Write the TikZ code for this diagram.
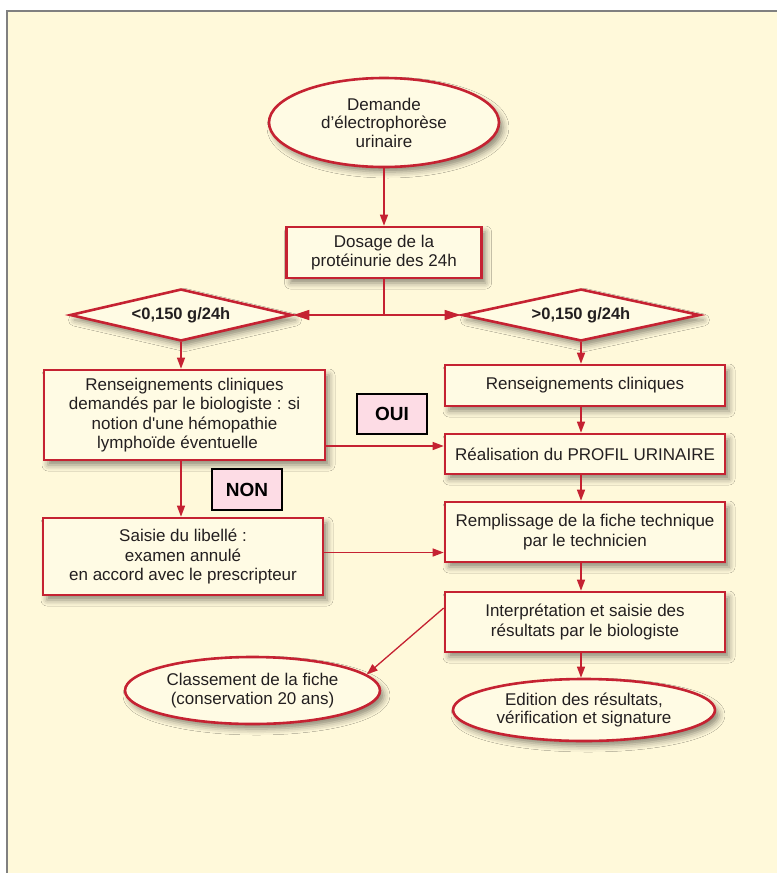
\documentclass[tikz,border=0pt]{standalone}
\usepackage{fontspec}
\setmainfont{Liberation Sans}
\usetikzlibrary{shapes.geometric,arrows.meta,shadows.blur}

\definecolor{bg}{HTML}{FFF9DA}
\definecolor{boxfill}{HTML}{FFFBE4}
\definecolor{rd}{HTML}{C52232}
\definecolor{txt}{HTML}{231F20}
\definecolor{pinkf}{HTML}{FDDCE5}
\definecolor{framegray}{HTML}{808080}

\begin{document}
\begin{tikzpicture}[x=1pt,y=-1pt,
  every node/.style={text=txt, font=\fontsize{17}{19.5}\selectfont, align=center, inner sep=0pt},
  shad/.style={blur shadow={shadow xshift=4pt, shadow yshift=-5pt, shadow blur radius=6pt, shadow opacity=45}},
  rbox/.style={draw=rd, line width=2.6pt, fill=boxfill, rectangle, shad},
  oval/.style={draw=rd, line width=2.6pt, fill=boxfill, ellipse, shad, font=\fontsize{17}{18.5}\selectfont},
  dia/.style={draw=rd, line width=2.6pt, fill=boxfill, diamond, aspect=4.2, font=\fontsize{16.5}{19.5}\selectfont\bfseries, shad},
  labelbox/.style={draw=black, line width=2.4pt, fill=pinkf, text=black, font=\fontsize{19}{22}\selectfont\bfseries},
  conn/.style={draw=rd, line width=1.3pt},
  arr/.style={conn, -{Triangle[length=11pt,width=8pt]}},
  bigarr/.style={conn, -{Triangle[length=16pt,width=10pt]}},
]
\useasboundingbox (0,0) rectangle (777,873);
\fill[white] (0,0) rectangle (777,873);
\fill[bg] (7,11) rectangle (777,873);
\draw[framegray, line width=1.5pt] (7,873) -- (7,11) -- (777,11);

% nodes
\node[oval, minimum width=230pt, minimum height=89pt] (ell1) at (384,122.5) {Demande\\d’électrophorèse\\urinaire};
\node[rbox, minimum width=195pt, minimum height=51pt] (dos) at (384,252.5) {Dosage de la\\protéinurie des 24h};
\node[dia, minimum width=222pt, minimum height=52pt] (dL) at (181,315) {<0,150 g/24h};
\node[dia, minimum width=238pt, minimum height=52pt] (dR) at (581,315) {>0,150 g/24h};
\node[rbox, minimum width=281pt, minimum height=90pt] (L1) at (184.5,415) {Renseignements cliniques\\demandés par le biologiste : si\\notion d\textquotesingle une hémopathie\\lymphoïde éventuelle\hspace*{14pt}};
\node[rbox, minimum width=280pt, minimum height=41pt] (R1) at (585,385.5) {Renseignements cliniques};
\node[rbox, minimum width=280pt, minimum height=40pt] (R2) at (585,454) {Réalisation du PROFIL URINAIRE};
\node[labelbox, minimum width=70pt, minimum height=40pt] (oui) at (392,414) {OUI};
\node[labelbox, minimum width=70pt, minimum height=41pt] (non) at (247,489.5) {NON};
\node[rbox, minimum width=280pt, minimum height=77pt] (S) at (183,556.5) {Saisie du libellé :\\examen annulé\\en accord avec le prescripteur};
\node[rbox, minimum width=280pt, minimum height=60pt] (R3) at (585,532) {Remplissage de la fiche technique\\par le technicien};
\node[rbox, minimum width=280pt, minimum height=60pt] (R4) at (585,622) {Interprétation et saisie des\\résultats par le biologiste};
\node[oval, minimum width=262pt, minimum height=62pt] (E) at (584,710) {Edition des résultats,\\vérification et signature};
\node[oval, minimum width=255pt, minimum height=67pt] (C) at (252.5,690.5) {Classement de la fiche\\(conservation 20 ans)};

% connectors
\coordinate (split) at (dos.south |- dL.east);
\draw[arr] (ell1.south) -- (dos.north);
\draw[conn] (dos.south) -- (split);
\draw[bigarr] (split) -- (dL.east);
\draw[bigarr] (split) -- (dR.west);
\draw[arr] (dL.south) -- (dL.south |- L1.north);
\draw[arr] (dR.south) -- (dR.south |- R1.north);
\draw[arr] (R1.south -| dR.south) -- (R2.north -| dR.south);
\draw[arr] ([yshift=-31pt]L1.east) -- ([yshift=-31pt]L1.east -| R2.west);
\draw[arr] (dL.south |- L1.south) -- (dL.south |- S.north);
\draw[arr] ([yshift=4pt]S.east) -- ([yshift=4pt]S.east -| R3.west);
\draw[arr] (R2.south -| dR.south) -- (R3.north -| dR.south);
\draw[arr] (R3.south -| dR.south) -- (R4.north -| dR.south);
\draw[arr] (R4.south -| dR.south) -- (dR.south |- E.north);
\draw[arr] ([yshift=14pt]R4.west) -- (C.8);
\end{tikzpicture}
\end{document}
